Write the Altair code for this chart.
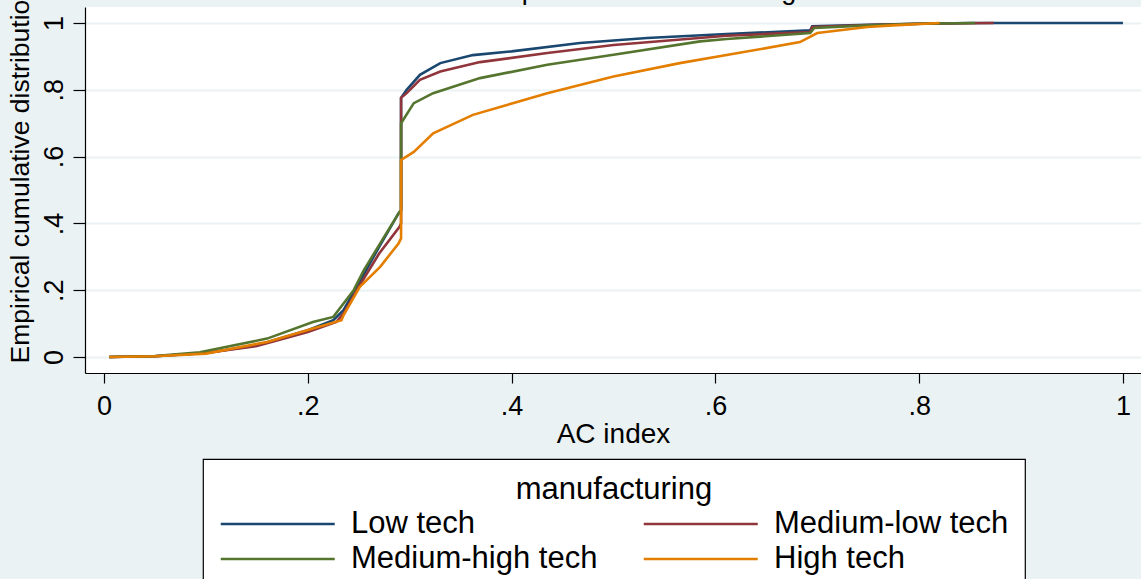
import altair as alt
import pandas as pd

series_names = ["Low tech", "Medium-low tech", "Medium-high tech", "High tech"]
series_colors = ["#1a476f", "#90353b", "#55752f", "#e37e00"]

low_x = [0.005, 0.05, 0.1, 0.15, 0.2, 0.225, 0.235, 0.25, 0.27, 0.289, 0.2915, 0.2915, 0.297, 0.31, 0.33, 0.362, 0.40, 0.467, 0.533, 0.611, 0.693, 0.695, 0.75, 0.8, 0.85, 1.0]
low_y = [0.0, 0.002, 0.012, 0.035, 0.08, 0.11, 0.14, 0.22, 0.33, 0.43, 0.44, 0.776, 0.80, 0.845, 0.88, 0.904, 0.915, 0.94, 0.955, 0.967, 0.978, 0.99, 0.995, 0.998, 1.0, 1.0]

mlow_x = [0.005, 0.05, 0.1, 0.15, 0.2, 0.228, 0.235, 0.25, 0.27, 0.29, 0.2915, 0.2915, 0.297, 0.31, 0.33, 0.369, 0.435, 0.5, 0.611, 0.693, 0.695, 0.75, 0.8, 0.873]
mlow_y = [0.0, 0.002, 0.012, 0.033, 0.075, 0.105, 0.13, 0.21, 0.31, 0.39, 0.40, 0.776, 0.79, 0.83, 0.855, 0.883, 0.91, 0.934, 0.962, 0.973, 0.988, 0.994, 0.998, 1.0]

mhigh_x = [0.005, 0.05, 0.094, 0.16, 0.205, 0.225, 0.245, 0.255, 0.271, 0.289, 0.2915, 0.2915, 0.304, 0.323, 0.369, 0.435, 0.5, 0.585, 0.611, 0.693, 0.697, 0.75, 0.8, 0.855]
mhigh_y = [0.0, 0.003, 0.014, 0.055, 0.105, 0.12, 0.2, 0.26, 0.34, 0.43, 0.44, 0.70, 0.76, 0.79, 0.835, 0.875, 0.905, 0.945, 0.952, 0.97, 0.985, 0.993, 0.998, 1.0]

high_x = [0.005, 0.05, 0.1, 0.16, 0.205, 0.233, 0.235, 0.251, 0.271, 0.289, 0.2915, 0.2915, 0.304, 0.323, 0.362, 0.435, 0.5, 0.565, 0.611, 0.683, 0.70, 0.749, 0.774, 0.82]
high_y = [0.0, 0.002, 0.01, 0.045, 0.085, 0.11, 0.125, 0.21, 0.27, 0.34, 0.355, 0.59, 0.614, 0.67, 0.725, 0.79, 0.84, 0.88, 0.904, 0.943, 0.97, 0.988, 0.993, 1.0]

tick_values = [0, 0.2, 0.4, 0.6, 0.8, 1.0]

rows = []
for name, xs, ys in zip(series_names, [low_x, mlow_x, mhigh_x, high_x], [low_y, mlow_y, mhigh_y, high_y]):
    for i, (xv, yv) in enumerate(zip(xs, ys)):
        rows.append({"group": name, "ac": xv, "cdf": yv, "i": i})
df = pd.DataFrame(rows)

FONT = "Liberation Sans"
label_expr = "datum.value == 0 ? '0' : datum.value == 1 ? '1' : replace(format(datum.value, '.1f'), '0.', '.')"

chart = alt.Chart(df).mark_line(strokeWidth=2.6).encode(
    x=alt.X("ac:Q", scale=alt.Scale(domain=[-0.0187, 1.0177], nice=False, zero=False),
            axis=alt.Axis(values=tick_values, labelExpr=label_expr, title="AC index",
                          grid=False, tickSize=10, labelPadding=10, labelFontSize=27,
                          labelBaseline="top", titleFontSize=28, titleY=69,
                          titleBaseline="alphabetic", titleFontWeight="normal")),
    y=alt.Y("cdf:Q", scale=alt.Scale(domain=[-0.048, 1.048], nice=False, zero=False),
            axis=alt.Axis(values=tick_values, labelExpr=label_expr,
                          title="Empirical cumulative distribution",
                          grid=True, gridColor="#eaf2f3", gridWidth=2,
                          tickSize=12, labelPadding=11, labelFontSize=27, labelAngle=270,
                          labelAlign="center", labelBaseline="alphabetic",
                          titleFontSize=26.5, titleAngle=270, titleAlign="left",
                          titleBaseline="alphabetic", titleX=-57, titleY=356,
                          titleFontWeight="normal")),
    color=alt.Color("group:N", scale=alt.Scale(domain=series_names, range=series_colors),
                    legend=alt.Legend(title="manufacturing", orient="none", legendX=118, legendY=452,
                                      direction="horizontal", columns=2,
                                      symbolType="M-1,0H7", symbolSize=812,
                                      symbolStrokeWidth=2.6, symbolFillColor="transparent",
                                      labelFontSize=31, titleFontSize=31,
                                      titleFontWeight="normal", titleAnchor="middle", titleAlign="center",
                                      labelOffset=100, labelLimit=600, titleLimit=800, padding=16,
                                      fillColor="white", strokeColor="black",
                                      columnPadding=40, rowPadding=4, titlePadding=2)),
    order=alt.Order("i:Q"),
).properties(
    width=1056, height=366,
    title=alt.TitleParams("AC index comparison: manufacturing", fontSize=27, fontWeight="normal",
                          font=FONT, color="black", anchor="middle", dx=-38, offset=-42,
                          baseline="alphabetic"),
    autosize=alt.AutoSizeParams(type="none"),
    padding={"left": 85, "top": 7, "right": 0, "bottom": 206},
    background="#eaf2f3",
).configure(font=FONT).configure_view(fill="white", stroke=None).configure_axis(
    domainColor="black", domainWidth=1.2, tickColor="black", tickWidth=1.2,
    labelColor="black", titleColor="black", labelFont=FONT, titleFont=FONT,
).configure_legend(labelFont=FONT, titleFont=FONT, labelColor="black", titleColor="black",
                   strokeWidth=1.2)

chart.save("out.html", embed_options={"renderer": "svg", "actions": False})
